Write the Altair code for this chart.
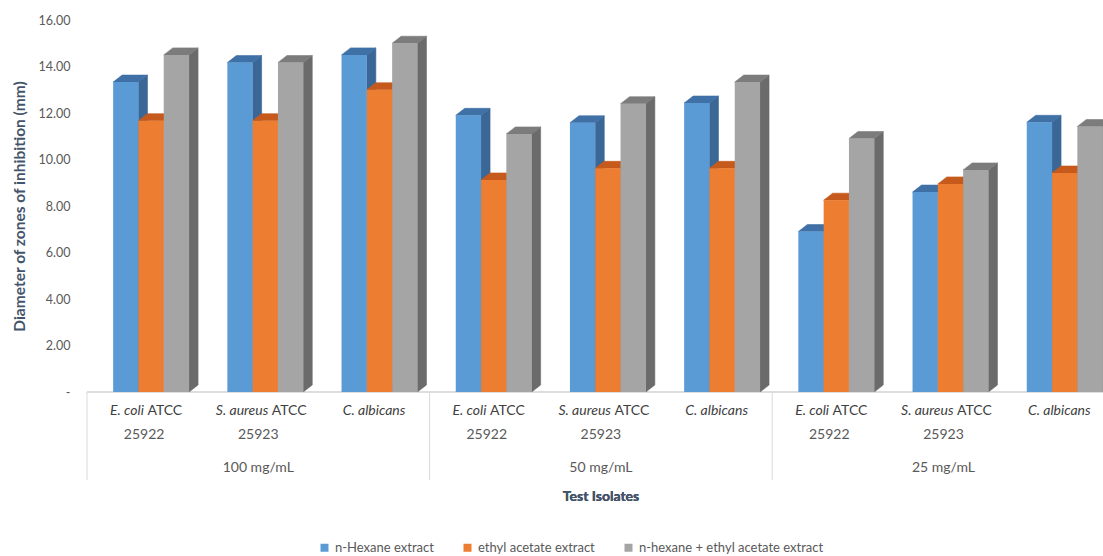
import altair as alt
import pandas as pd

# ---------------- data ----------------
concentrations = ["100 mg/mL", "50 mg/mL", "25 mg/mL"]
isolate_italic = ["E. coli", "S. aureus", "C. albicans"]
isolate_roman = ["ATCC", "ATCC", ""]
isolate_strain = ["25922", "25923", ""]
series = ["n-Hexane extract", "ethyl acetate extract", "n-hexane + ethyl acetate extract"]

hexane = [13.33, 14.17, 14.50, 11.90, 11.58, 12.43, 6.90, 8.60, 11.60]
ethyl = [11.67, 11.67, 13.00, 9.12, 9.62, 9.62, 8.25, 8.95, 9.42]
mixed = [14.50, 14.17, 15.00, 11.10, 12.40, 13.33, 10.90, 9.55, 11.42]

y_ticks = [0, 2, 4, 6, 8, 10, 12, 14, 16]

# ---------------- style ----------------
front_colors = ["#5b9bd5", "#ed7d31", "#a5a5a5"]
top_colors = ["#3f71a6", "#c65a1c", "#7c7c7c"]
side_colors = ["#3a6796", "#b04f16", "#6b6b6b"]
FONT = "Lato"
TXT = "#595959"

PLOT_LEFT = 87
BAND_PX = 114.2
W = 1103 - PLOT_LEFT
H = 372
XMAX = W / BAND_PX
BAR = 25.3 / BAND_PX          # bar width in category units
SHIFT = 7 / BAND_PX           # 3D projection shift of the front face
DX = 9 / BAND_PX              # depth offset (x)
DY = 7 * 16 / H               # depth offset (value units)
GAP = 3.5                     # space between italic and roman parts (px)

values = [hexane, ethyl, mixed]

fronts, sides, tops = [], [], []
for i in range(9):
    c = i + 0.5 + SHIFT
    for j, s in enumerate(series):
        v = values[j][i]
        xl = c - 1.5 * BAR + j * BAR
        xr = xl + BAR
        bid = f"{i}-{j}"
        fronts.append({"x": xl, "x2": xr, "value": v, "base": 0.0, "series": s})
        sides += [
            {"x": xr, "lo": 0.0, "hi": v, "bar": bid, "col": side_colors[j]},
            {"x": xr + DX, "lo": DY, "hi": v + DY, "bar": bid, "col": side_colors[j]},
        ]
        tops += [
            {"x": xl, "lo": v, "hi": v, "bar": bid, "col": top_colors[j]},
            {"x": xl + DX, "lo": v, "hi": v + DY, "bar": bid, "col": top_colors[j]},
            {"x": xr, "lo": v, "hi": v + DY, "bar": bid, "col": top_colors[j]},
            {"x": xr + DX, "lo": v + DY, "hi": v + DY, "bar": bid, "col": top_colors[j]},
        ]

df_front = pd.DataFrame(fronts)
df_side = pd.DataFrame(sides)
df_top = pd.DataFrame(tops)


def est_width(s, fs):
    w = 0.0
    for ch in s:
        if ch in ".il ,:":
            w += 0.27
        elif ch.isupper():
            w += 0.62
        else:
            w += 0.5
    return w * fs


LBL_FS = 14
lab_rows = []
for i in range(9):
    k = i % 3
    it, ro, st = isolate_italic[k], isolate_roman[k], isolate_strain[k]
    w_ro = est_width(ro, LBL_FS) + (GAP if ro else 0)
    shift_px = (est_width(it, LBL_FS) - w_ro) / 2
    lab_rows.append({"center": i + 0.5, "split": i + 0.5 + shift_px / BAND_PX,
                     "it": it, "ro": ro, "st": st})
df_lab = pd.DataFrame(lab_rows)
df_grp = pd.DataFrame({"center": [1.5, 4.5, 7.5], "conc": concentrations})
df_sep = pd.DataFrame({"x": [0, 3, 6]})

xscale = alt.Scale(domain=[0, XMAX], nice=False, zero=False)
yscale = alt.Scale(domain=[0, 16], nice=False, zero=True)
yaxis = alt.Axis(
    values=y_ticks,
    labelExpr="datum.value == 0 ? '-' : format(datum.value, '.2f')",
    domain=False, ticks=False, grid=False,
    labelFont=FONT, labelFontSize=12.5, labelColor=TXT, labelPadding=17,
    titleFont=FONT, titleFontSize=15.5, titleFontWeight="bold", titleColor="#44546a",
    titlePadding=11,
)
YTITLE = "Diameter of zones of inhibition (mm)"


def X(field):
    return alt.X(field, scale=xscale, axis=None)


side_layer = alt.Chart(df_side).mark_area(orient="vertical", clip=True, strokeWidth=0.6).encode(
    x=X("x:Q"),
    y=alt.Y("lo:Q", scale=yscale, axis=yaxis, title=YTITLE),
    y2="hi:Q",
    detail="bar:N",
    fill=alt.Fill("col:N", scale=None),
    stroke=alt.Stroke("col:N", scale=None),
)
top_layer = alt.Chart(df_top).mark_area(orient="vertical", clip=True, strokeWidth=0.6).encode(
    x=X("x:Q"),
    y=alt.Y("lo:Q", scale=yscale, axis=yaxis, title=YTITLE),
    y2="hi:Q",
    detail="bar:N",
    fill=alt.Fill("col:N", scale=None),
    stroke=alt.Stroke("col:N", scale=None),
)
front_layer = alt.Chart(df_front).mark_rect(clip=True).encode(
    x=X("x:Q"),
    x2="x2:Q",
    y=alt.Y("value:Q", scale=yscale, axis=yaxis, title=YTITLE),
    y2="base:Q",
    color=alt.Color(
        "series:N",
        sort=series,
        scale=alt.Scale(domain=series, range=front_colors),
        title=None,
        legend=alt.Legend(
            orient="none", legendX=231, legendY=521, direction="horizontal",
            symbolType="square", symbolSize=64, symbolStrokeWidth=0,
            labelFont=FONT, labelFontSize=13, labelColor=TXT, labelLimit=400,
            columnPadding=27, padding=0, labelOffset=4,
        ),
    ),
)

axis_line = alt.Chart(df_sep).mark_rule(color="#d9d9d9", strokeWidth=1).encode(
    x=alt.value(0), x2=alt.value(W), y=alt.value(H)
)
sep_lines = alt.Chart(df_sep).mark_rule(color="#d9d9d9", strokeWidth=1).encode(
    x=X("x:Q"), y=alt.value(H), y2=alt.value(460)
)

lab_it = alt.Chart(df_lab).mark_text(
    align="right", baseline="middle", font=FONT, fontSize=LBL_FS, fontStyle="italic", color="#404040"
).encode(x=X("split:Q"), y=alt.value(391), text="it:N")
lab_ro = alt.Chart(df_lab).mark_text(
    align="left", baseline="middle", font=FONT, fontSize=LBL_FS, color="#404040", dx=GAP
).encode(x=X("split:Q"), y=alt.value(391), text="ro:N")
lab_st = alt.Chart(df_lab).mark_text(
    align="center", baseline="middle", font=FONT, fontSize=LBL_FS, color=TXT
).encode(x=X("center:Q"), y=alt.value(415), text="st:N")
grp_txt = alt.Chart(df_grp).mark_text(
    align="center", baseline="middle", font=FONT, fontSize=LBL_FS, color=TXT
).encode(x=X("center:Q"), y=alt.value(448), text="conc:N")
x_title = alt.Chart(df_grp).mark_text(
    align="center", baseline="middle", font=FONT, fontSize=14, fontWeight="bold", color="#44546a"
).encode(x=alt.value(514), y=alt.value(477), text=alt.value("Test Isolates"))

chart = alt.layer(
    axis_line, sep_lines, side_layer, top_layer, front_layer,
    lab_it, lab_ro, lab_st, grp_txt, x_title,
).properties(
    width=W, height=H,
    autosize=alt.AutoSizeParams(type="none"),
    padding={"left": PLOT_LEFT, "top": 20, "right": 0, "bottom": 556 - 20 - H},
    background="white",
).configure_view(stroke=None)

chart.save("out.html", embed_options={"renderer": "svg", "actions": False})
